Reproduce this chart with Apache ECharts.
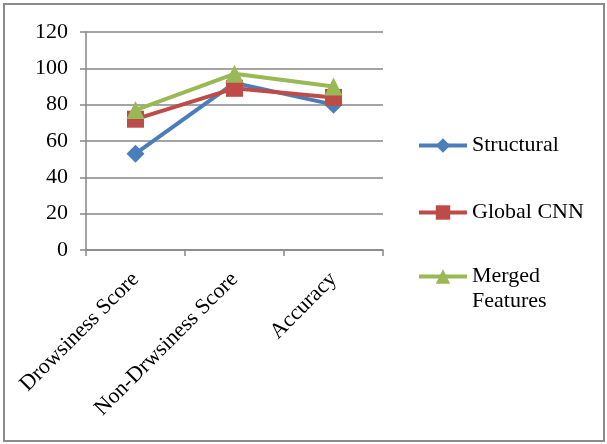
<!DOCTYPE html>
<html>
<head>
<meta charset="utf-8">
<script src="https://cdn.jsdelivr.net/npm/echarts@6/dist/echarts.min.js"></script>
<style>
  html, body { margin: 0; padding: 0; background: #fff; }
  #main { width: 607px; height: 444px; }
</style>
</head>
<body>
<div id="main"></div>
<script>
// data
var categories = ['Drowsiness Score', 'Non-Drwsiness Score', 'Accuracy'];
var structural = [53, 92, 80];
var globalCnn = [72, 89, 84];
var mergedFeatures = [77, 97, 90];
var yTicks = [0, 20, 40, 60, 80, 100, 120];

var chart = echarts.init(document.getElementById('main'));
var font = 'Liberation Serif';

function lineSeries(name, data, color, symbol, size) {
    return {
        name: name,
        type: 'line',
        data: data,
        symbol: symbol,
        symbolSize: size,
        lineStyle: { color: color, width: 4 },
        itemStyle: { color: color },
        z: 3
    };
}

// one legend block per entry, so each can sit where the reference puts it
function legendBlock(name, top) {
    return {
        orient: 'vertical',
        left: 417,
        top: top,
        padding: 0,
        itemWidth: 48,
        itemHeight: 18,
        itemGap: 5,
        lineStyle: { width: 4 },
        textStyle: { fontFamily: font, fontSize: 22, color: '#000', lineHeight: 25 },
        formatter: function (n) {
            // blank first line keeps the marker level with "Merged"
            return n === 'Merged Features' ? '\u00a0\nMerged\nFeatures' : n;
        },
        data: [name]
    };
}

var option = {
    animation: false,
    textStyle: { fontFamily: font },
    graphic: [{
        type: 'rect',
        shape: { x: 4, y: 4, width: 600, height: 437 },
        style: { fill: 'none', stroke: '#8c8c8c', lineWidth: 2 },
        silent: true
    }],
    grid: { left: 86, right: 224, top: 32, bottom: 194 },
    legend: [
        legendBlock('Structural', 133),
        legendBlock('Global CNN', 200),
        legendBlock('Merged Features', 239)
    ],
    xAxis: {
        type: 'category',
        data: categories,
        boundaryGap: true,
        axisLine: { lineStyle: { color: '#868686', width: 1.5 } },
        axisTick: { show: true, length: 6, alignWithLabel: false, lineStyle: { color: '#868686', width: 1.5 } },
        axisLabel: {
            rotate: 45,
            interval: 0,
            margin: 26,
            fontFamily: font,
            fontSize: 22,
            color: '#000'
        }
    },
    yAxis: {
        type: 'value',
        min: yTicks[0],
        max: yTicks[yTicks.length - 1],
        interval: 20,
        axisLine: { show: true, lineStyle: { color: '#868686', width: 1.5 } },
        axisTick: { show: true, length: 6, lineStyle: { color: '#868686', width: 1.5 } },
        splitLine: { lineStyle: { color: '#868686', width: 1.5 } },
        axisLabel: { fontFamily: font, fontSize: 22, color: '#000', margin: 18 }
    },
    series: [
        lineSeries('Structural', structural, '#4a7ebb', 'diamond', 18),
        lineSeries('Global CNN', globalCnn, '#be4b48', 'rect', 17),
        lineSeries('Merged Features', mergedFeatures, '#98b954', 'triangle', 18)
    ]
};

chart.setOption(option);
</script>
</body>
</html>
